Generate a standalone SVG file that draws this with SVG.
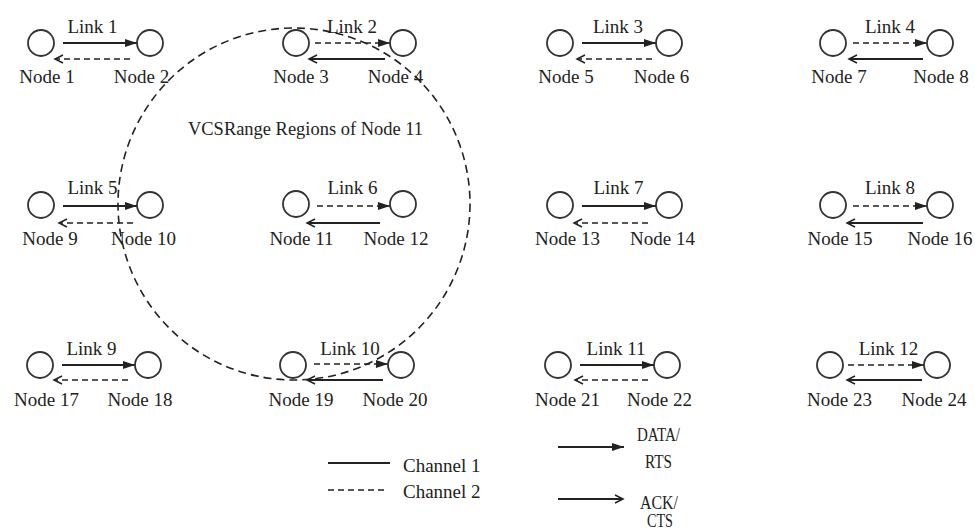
<svg xmlns="http://www.w3.org/2000/svg" width="975" height="529" viewBox="0 0 975 529">
<style>
  text { font-family: "Liberation Serif", "Times New Roman", serif; font-size: 19px; fill: #222; }
  .lbl { text-anchor: middle; }
  .tall { font-size: 19px; }
  .node { fill: #fff; stroke: #333; stroke-width: 1.8; }
  .ch1 { stroke: #222; stroke-width: 2; fill: none; }
  .ch2 { stroke: #222; stroke-width: 1.6; stroke-dasharray: 6 4; fill: none; }
  .data { marker-end: url(#headFill); }
  .ack { marker-end: url(#headOpen); }
  .region { fill: none; stroke: #222; stroke-width: 1.6; stroke-dasharray: 8 5; }
</style>
<defs>
  <marker id="headFill" markerUnits="userSpaceOnUse" markerWidth="13" markerHeight="10" refX="12" refY="5" orient="auto">
    <path d="M0,1 L12,5 L0,9 z" fill="#222"/>
  </marker>
  <marker id="headOpen" markerUnits="userSpaceOnUse" markerWidth="11" markerHeight="10" refX="9" refY="5" orient="auto">
    <path d="M1,1 L9,5 L1,9" fill="none" stroke="#222" stroke-width="1.5"/>
  </marker>
</defs>
<rect width="975" height="529" fill="#fff"/>

<g id="region-node11">
  <circle class="region" cx="294" cy="204" r="176"/>
  <text x="188" y="135" textLength="235" lengthAdjust="spacingAndGlyphs">VCSRange Regions of Node 11</text>
</g>

<g id="connectors">
  <!-- Row 1 -->
  <line class="ch1 data" x1="63" y1="43" x2="137" y2="43"/>
  <line class="ch2 ack" x1="130" y1="59" x2="55" y2="59"/>
  <text class="lbl" x="92.5" y="33">Link 1</text>
  <line class="ch2 data" x1="315" y1="43" x2="390" y2="43"/>
  <line class="ch1 ack" x1="385" y1="59" x2="309" y2="59"/>
  <text class="lbl" x="352" y="33">Link 2</text>
  <line class="ch1 data" x1="582" y1="43" x2="656" y2="43"/>
  <line class="ch2 ack" x1="652" y1="59" x2="577" y2="59"/>
  <text class="lbl" x="618" y="33">Link 3</text>
  <line class="ch2 data" x1="853" y1="43" x2="927" y2="43"/>
  <line class="ch1 ack" x1="923" y1="59" x2="849" y2="59"/>
  <text class="lbl" x="890" y="33">Link 4</text>
  <!-- Row 2 -->
  <line class="ch1 data" x1="63" y1="206" x2="137" y2="206"/>
  <line class="ch2 ack" x1="133" y1="223" x2="59" y2="223"/>
  <text class="lbl" x="92.5" y="194">Link 5</text>
  <line class="ch2 data" x1="317" y1="206" x2="390" y2="206"/>
  <line class="ch1 ack" x1="380" y1="223" x2="307" y2="223"/>
  <text class="lbl" x="352.5" y="194">Link 6</text>
  <line class="ch1 data" x1="582" y1="206" x2="656" y2="206"/>
  <line class="ch2 ack" x1="648" y1="223" x2="574" y2="223"/>
  <text class="lbl" x="618.5" y="194">Link 7</text>
  <line class="ch2 data" x1="853" y1="206" x2="927" y2="206"/>
  <line class="ch1 ack" x1="923" y1="223" x2="847" y2="223"/>
  <text class="lbl" x="890" y="194">Link 8</text>
  <!-- Row 3 -->
  <line class="ch1 data" x1="62" y1="365" x2="135" y2="365"/>
  <line class="ch2 ack" x1="128" y1="380" x2="54" y2="380"/>
  <text class="lbl" x="91.5" y="355">Link 9</text>
  <line class="ch2 data" x1="314" y1="364" x2="388" y2="364"/>
  <line class="ch1 ack" x1="383" y1="380" x2="307" y2="380"/>
  <text class="lbl" x="350" y="355">Link 10</text>
  <line class="ch1 data" x1="580" y1="365" x2="654" y2="365"/>
  <line class="ch2 ack" x1="648" y1="380" x2="575" y2="380"/>
  <text class="lbl" x="616" y="355">Link 11</text>
  <line class="ch2 data" x1="848" y1="365" x2="924" y2="365"/>
  <line class="ch1 ack" x1="922" y1="380" x2="847" y2="380"/>
  <text class="lbl" x="888.5" y="355">Link 12</text>
</g>

<g id="node1"><circle class="node" cx="41" cy="43" r="13"/><text class="lbl" x="47" y="83">Node 1</text></g>
<g id="node2"><circle class="node" cx="150" cy="43" r="13"/><text class="lbl" x="141.5" y="83">Node 2</text></g>
<g id="node3"><circle class="node" cx="296" cy="43" r="13"/><text class="lbl" x="301" y="83">Node 3</text></g>
<g id="node4"><circle class="node" cx="403" cy="43" r="13"/><text class="lbl" x="395.5" y="83">Node 4</text></g>
<g id="node5"><circle class="node" cx="560" cy="43" r="13"/><text class="lbl" x="566" y="83">Node 5</text></g>
<g id="node6"><circle class="node" cx="669" cy="43" r="13"/><text class="lbl" x="661.5" y="83">Node 6</text></g>
<g id="node7"><circle class="node" cx="833" cy="43" r="13"/><text class="lbl" x="839" y="83">Node 7</text></g>
<g id="node8"><circle class="node" cx="940" cy="43" r="13"/><text class="lbl" x="941" y="83">Node 8</text></g>

<g id="node9"><circle class="node" cx="41" cy="205" r="13"/><text class="lbl" x="50" y="245">Node 9</text></g>
<g id="node10"><circle class="node" cx="150" cy="205" r="13"/><text class="lbl" x="143.5" y="245">Node 10</text></g>
<g id="node11"><circle class="node" cx="296" cy="204" r="13"/><text class="lbl" x="301.5" y="245">Node 11</text></g>
<g id="node12"><circle class="node" cx="403" cy="204" r="13"/><text class="lbl" x="396" y="245">Node 12</text></g>
<g id="node13"><circle class="node" cx="560" cy="205" r="13"/><text class="lbl" x="567.5" y="245">Node 13</text></g>
<g id="node14"><circle class="node" cx="669" cy="205" r="13"/><text class="lbl" x="662.5" y="245">Node 14</text></g>
<g id="node15"><circle class="node" cx="833" cy="205" r="13"/><text class="lbl" x="840" y="245">Node 15</text></g>
<g id="node16"><circle class="node" cx="940" cy="205" r="13"/><text class="lbl" x="940" y="245">Node 16</text></g>

<g id="node17"><circle class="node" cx="40" cy="365" r="13"/><text class="lbl" x="46.5" y="406">Node 17</text></g>
<g id="node18"><circle class="node" cx="148" cy="365" r="13"/><text class="lbl" x="140" y="406">Node 18</text></g>
<g id="node19"><circle class="node" cx="293" cy="365" r="13"/><text class="lbl" x="301" y="406">Node 19</text></g>
<g id="node20"><circle class="node" cx="401" cy="365" r="13"/><text class="lbl" x="395" y="406">Node 20</text></g>
<g id="node21"><circle class="node" cx="558" cy="365" r="13"/><text class="lbl" x="567.5" y="406">Node 21</text></g>
<g id="node22"><circle class="node" cx="667" cy="365" r="13"/><text class="lbl" x="659.5" y="406">Node 22</text></g>
<g id="node23"><circle class="node" cx="830" cy="365" r="13"/><text class="lbl" x="839.5" y="406">Node 23</text></g>
<g id="node24"><circle class="node" cx="937" cy="365" r="13"/><text class="lbl" x="934" y="406">Node 24</text></g>

<g id="legend">
  <line class="ch1" x1="328" y1="463" x2="390" y2="463"/>
  <text x="403" y="472">Channel 1</text>
  <line class="ch2" x1="328" y1="490" x2="388" y2="490"/>
  <text x="403" y="498">Channel 2</text>
  <line class="ch1 data" x1="558" y1="447" x2="624" y2="447"/>
  <text class="tall" x="637" y="441" textLength="43" lengthAdjust="spacingAndGlyphs">DATA/</text>
  <text class="tall" x="645" y="468" textLength="27" lengthAdjust="spacingAndGlyphs">RTS</text>
  <line class="ch1 ack" x1="558" y1="499" x2="623" y2="499"/>
  <text class="tall" x="640" y="509" textLength="38" lengthAdjust="spacingAndGlyphs">ACK/</text>
  <text class="tall" x="647" y="527" textLength="26" lengthAdjust="spacingAndGlyphs">CTS</text>
</g>
</svg>
